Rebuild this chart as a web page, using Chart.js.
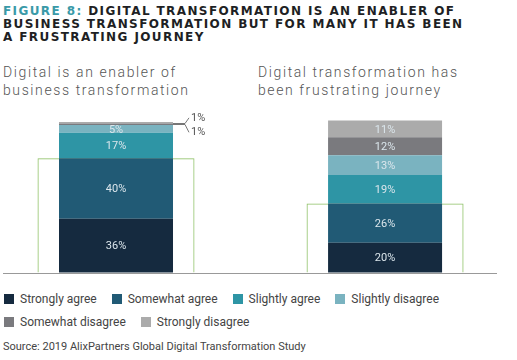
<!DOCTYPE html>
<html>
<head>
<meta charset="utf-8">
<script src="https://cdn.jsdelivr.net/npm/chart.js@4.4.1/dist/chart.umd.min.js"></script>
<style>
  body { margin: 0; width: 517px; height: 360px; overflow: hidden; background: #fff; font-family: Roboto, "Noto Sans", sans-serif; position: relative; }
  #title { position: absolute; left: 3px; top: 5px; font-family: "DejaVu Sans", sans-serif; font-weight: 700; font-size: 12px; line-height: 13px; letter-spacing: 1.4px; color: #1e1f24; }
  #title span { color: #3a9aa8; }
  .sub { position: absolute; top: 63px; font-size: 14px; font-weight: 300; line-height: 18px; letter-spacing: 1.6px; color: #555; }
  #wrap { position: absolute; left: 0; top: 100px; width: 517px; height: 176px; }
  #legend { position: absolute; left: 4px; top: 292px; width: 510px; font-size: 12px; color: #444; }
  .row { display: flex; height: 23px; align-items: flex-start; }
  .item { display: flex; align-items: center; margin-right: 15px; white-space: nowrap; }
  .box { width: 10px; height: 10px; margin-right: 6px; }
  #source { position: absolute; left: 3px; top: 340px; font-size: 11px; color: #444; }
</style>
</head>
<body>
<div id="title"><span>FIGURE 8:</span> DIGITAL TRANSFORMATION IS AN ENABLER OF<br>BUSINESS TRANSFORMATION BUT FOR MANY IT HAS BEEN<br>A FRUSTRATING JOURNEY</div>
<div class="sub" style="left:3px">Digital is an enabler of<br>business transformation</div>
<div class="sub" style="left:258px">Digital transformation has<br>been frustrating journey</div>
<div id="wrap"><canvas id="myChart"></canvas></div>
<div id="legend"></div>
<div id="source">Source: 2019 AlixPartners Global Digital Transformation Study</div>

<script>
let categories = ['Digital is an enabler of business transformation', 'Digital transformation has been frustrating journey'];
let seriesNames = ['Strongly agree', 'Somewhat agree', 'Slightly agree', 'Slightly disagree', 'Somewhat disagree', 'Strongly disagree'];
let seriesColors = ['#152a3f', '#215a75', '#2e95a5', '#7ab3c0', '#7a7a7e', '#ababab'];

let stronglyAgree = [36, 20];
let somewhatAgree = [40, 26];
let slightlyAgree = [17, 19];
let slightlyDisagree = [5, 13];
let somewhatDisagree = [1, 12];
let stronglyDisagree = [1, 11];

let allSeries = [stronglyAgree, somewhatAgree, slightlyAgree, slightlyDisagree, somewhatDisagree, stronglyDisagree];

// total agree box (strongly + somewhat)
let agreeTotal = [];
for (let i = 0; i < categories.length; i++) {
  agreeTotal.push(stronglyAgree[i] + somewhatAgree[i]);
}

// grouped:false keeps every bar centred on its category, maxBarThickness sets the width
let datasets = [];
for (let s = 0; s < allSeries.length; s++) {
  datasets.push({
    label: seriesNames[s],
    data: allSeries[s].map((v, i) => ({ x: i, y: v })),
    backgroundColor: seriesColors[s],
    borderWidth: 0,
    grouped: false,
    categoryPercentage: 1,
    barPercentage: 10,
    maxBarThickness: 114,
    stack: 'answers',
    order: 0
  });
}
datasets.push({
  label: 'agree',
  data: agreeTotal.map((v, i) => ({ x: i, y: v })),
  backgroundColor: 'rgba(0,0,0,0)',
  borderColor: '#8cc063',
  borderWidth: 1,
  grouped: false,
  categoryPercentage: 1,
  barPercentage: 10,
  maxBarThickness: 157,
  stack: 'agreeBox',
  order: 1
});

// percent labels inside the bars, small ones outside with a little line
const barLabels = {
  id: 'barLabels',
  afterDatasetsDraw(chart) {
    let ctx = chart.ctx;
    ctx.save();
    ctx.font = '11px Roboto, sans-serif';
    ctx.textBaseline = 'middle';
    let smallCount = 0;
    for (let d = 0; d < allSeries.length; d++) {
      let meta = chart.getDatasetMeta(d);
      meta.data.forEach((bar, i) => {
        let v = allSeries[d][i];
        let cy = (bar.y + bar.base) / 2;
        if (v >= 3) {
          ctx.fillStyle = '#dbe6ec';
          ctx.textAlign = 'center';
          ctx.fillText(v + '%', bar.x, cy + 1);
        } else {
          let right = bar.x + bar.width / 2;
          let ly = smallCount === 0 ? cy + 8 : cy - 5;
          ctx.strokeStyle = '#777';
          ctx.lineWidth = 1;
          ctx.beginPath();
          ctx.moveTo(right, Math.round(cy) + 0.5);
          ctx.lineTo(right + 12, Math.round(cy) + 0.5);
          ctx.lineTo(right + 16, ly);
          ctx.stroke();
          ctx.fillStyle = '#555';
          ctx.textAlign = 'left';
          ctx.fillText(v + '%', right + 18, ly);
          smallCount++;
        }
      });
    }
    ctx.restore();
  }
};

const config = {
  type: 'bar',
  data: { datasets: datasets },
  options: {
    responsive: true,
    maintainAspectRatio: false,
    animation: false,
    layout: { padding: { left: 3, right: 20, top: 7, bottom: 3 } },
    plugins: { legend: { display: false }, tooltip: { enabled: false } },
    scales: {
      x: {
        type: 'linear',
        display: false,
        min: -0.42,
        max: 1.416,
        offset: false
      },
      y: {
        stacked: true,
        min: 0,
        max: 110,
        ticks: { display: false },
        border: { display: false },
        // only the zero line is shown, as the baseline
        grid: {
          drawTicks: false,
          lineWidth: 1,
          color: c => (c.tick && c.tick.value === 0) ? '#999999' : 'rgba(0,0,0,0)'
        }
      }
    }
  },
  plugins: [barLabels]
};

var myChart = new Chart(document.getElementById('myChart'), config);

// legend rows
let legendEl = document.getElementById('legend');
let rows = [[0, 1, 2, 3], [4, 5]];
rows.forEach(r => {
  let rowEl = document.createElement('div');
  rowEl.className = 'row';
  r.forEach(s => {
    let item = document.createElement('div');
    item.className = 'item';
    let box = document.createElement('div');
    box.className = 'box';
    box.style.background = seriesColors[s];
    item.appendChild(box);
    let txt = document.createElement('span');
    txt.textContent = seriesNames[s];
    item.appendChild(txt);
    rowEl.appendChild(item);
  });
  legendEl.appendChild(rowEl);
});
</script>
</body>
</html>
